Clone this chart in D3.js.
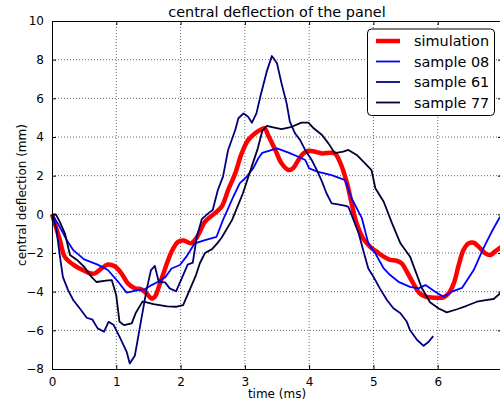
<!DOCTYPE html>
<html>
<head>
<meta charset="utf-8">
<script src="https://cdn.jsdelivr.net/npm/d3@7"></script>
<style>
    body { margin: 0; background: #fff; }
    text { font-family: "DejaVu Sans", sans-serif; fill: #000; }
    .tick-label { font-size: 12px; }
    .axis-label { font-size: 12px; }
    .chart-title { font-size: 14.4px; text-anchor: middle; }
    .legend-text { font-size: 14.4px; }
    .grid line { stroke: #000; stroke-width: 0.6; stroke-dasharray: 1,2; }
</style>
</head>
<body>
<div id="chart-area"></div>
<script>

// [time (ms), central deflection (mm)]
let simulation = [
    [0, 0], [0.12, -1.3], [0.2, -2.2], [0.33, -2.6], [0.43, -2.8], [0.59, -3.05], [0.67, -3.05],
    [0.77, -2.8], [0.87, -2.6], [0.98, -2.7], [1.08, -3.05], [1.18, -3.57], [1.29, -3.83],
    [1.39, -3.88], [1.47, -4.09], [1.55, -4.35], [1.60, -4.26], [1.68, -3.57], [1.76, -2.8],
    [1.86, -1.93], [1.96, -1.42], [2.05, -1.35], [2.16, -1.5], [2.25, -1.2], [2.30, -0.9],
    [2.38, -0.38], [2.53, 0.05], [2.64, 0.4], [2.74, 1.26], [2.85, 2.12], [2.95, 3.15],
    [3.05, 3.84], [3.16, 4.19], [3.26, 4.4], [3.31, 4.45], [3.36, 4.1], [3.47, 3.36],
    [3.57, 2.64], [3.68, 2.29], [3.75, 2.38], [3.83, 2.8], [3.91, 3.15], [3.99, 3.29],
    [4.09, 3.24], [4.20, 3.15], [4.33, 3.19], [4.40, 3.15], [4.48, 2.7], [4.59, 1.6],
    [4.66, 0.57], [4.74, -0.47], [4.84, -1.24], [4.95, -1.68], [5.05, -1.93], [5.16, -2.19],
    [5.26, -2.36], [5.36, -2.4], [5.44, -2.54], [5.52, -2.97], [5.62, -3.57], [5.72, -4.09],
    [5.81, -4.26], [5.96, -4.31], [6.09, -4.29], [6.17, -4.09], [6.25, -3.57], [6.32, -2.71],
    [6.40, -1.85], [6.48, -1.5], [6.56, -1.47], [6.64, -1.68], [6.74, -2.02], [6.82, -2.1],
    [6.89, -1.93], [6.99, -1.68]
];

let sample08 = [
    [0, 0], [0.09, -0.47], [0.245, -1.42], [0.33, -1.85], [0.50, -2.33], [0.71, -2.6],
    [0.87, -2.88], [1.02, -3.45], [1.16, -4.05], [1.34, -3.92], [1.44, -3.88], [1.55, -3.66],
    [1.65, -3.49], [1.76, -3.26], [1.86, -2.8], [1.99, -2.62], [2.09, -2.19], [2.22, -1.5],
    [2.38, -1.33], [2.56, -1.16], [2.66, -0.29], [2.74, 0.31], [2.82, 0.91], [2.92, 1.6],
    [3.03, 1.95], [3.13, 2.38], [3.21, 2.9], [3.27, 3.18], [3.50, 3.41], [3.68, 3.19],
    [3.83, 2.98], [3.94, 2.81], [4.0, 2.38], [4.14, 2.2], [4.35, 2.03], [4.56, 1.77],
    [4.66, 0.83], [4.82, -0.2], [4.92, -1.5], [5.03, -2.02], [5.16, -2.8], [5.26, -3.14],
    [5.39, -3.49], [5.57, -3.75], [5.70, -3.83], [5.81, -3.66], [5.96, -4.0], [6.09, -4.26],
    [6.22, -4.0], [6.38, -3.8], [6.56, -2.88], [6.71, -1.76], [6.84, -0.9], [6.97, -0.12]
];

let sample61 = [
    [0, 0], [0.065, -0.7], [0.12, -2.1], [0.17, -3.25], [0.25, -3.92], [0.33, -4.43],
    [0.43, -4.86], [0.54, -5.35], [0.63, -5.45], [0.71, -5.9], [0.81, -6.07], [0.88, -5.56],
    [0.96, -5.73], [1.05, -6.33], [1.16, -7.1], [1.21, -7.71], [1.29, -7.3], [1.38, -5.6],
    [1.47, -3.92], [1.54, -2.88], [1.60, -2.67], [1.66, -3.49], [1.76, -3.52], [1.83, -3.83],
    [1.93, -3.98], [2.02, -3.3], [2.11, -2.6], [2.19, -2.5], [2.25, -1.2], [2.33, -0.25],
    [2.43, 0.05], [2.50, 0.22], [2.58, 1.26], [2.66, 1.95], [2.74, 3.33], [2.85, 4.36],
    [2.90, 4.97], [2.98, 5.22], [3.05, 5.05], [3.11, 4.74], [3.18, 5.22], [3.24, 6.08],
    [3.34, 7.38], [3.42, 8.19], [3.50, 7.81], [3.57, 6.78], [3.65, 5.74], [3.70, 4.79],
    [3.78, 4.19], [3.86, 3.84], [3.94, 3.32], [4.04, 2.81], [4.12, 2.29], [4.20, 1.69],
    [4.27, 1.09], [4.35, 0.57], [4.45, 0.52], [4.57, 0.44], [4.61, 0.39], [4.69, -0.29],
    [4.77, -0.98], [4.84, -1.85], [4.92, -2.8], [5.0, -3.23], [5.10, -3.83], [5.21, -4.43],
    [5.31, -4.86], [5.42, -5.12], [5.52, -5.56], [5.57, -6.0], [5.68, -6.5], [5.78, -6.8],
    [5.86, -6.59], [5.93, -6.3]
];

let sample77 = [
    [0, 0], [0.06, 0], [0.12, -0.38], [0.20, -0.98], [0.28, -2.1], [0.39, -2.36],
    [0.51, -2.75], [0.59, -3.14], [0.69, -3.5], [0.87, -3.42], [0.93, -3.4], [1.0, -4.2],
    [1.05, -5.56], [1.12, -5.73], [1.24, -5.64], [1.30, -5.12], [1.41, -4.5], [1.58, -4.65],
    [1.79, -4.76], [1.94, -4.78], [2.04, -4.7], [2.13, -4.0], [2.24, -3.14], [2.30, -2.53],
    [2.38, -2.0], [2.49, -1.8], [2.57, -1.5], [2.64, -1.2], [2.80, -0.3], [2.97, 1.09],
    [3.09, 2.3], [3.20, 3.4], [3.27, 4.3], [3.34, 4.57], [3.44, 4.5], [3.57, 4.41],
    [3.73, 4.53], [3.88, 4.74], [3.99, 4.74], [4.07, 4.45], [4.20, 4.1], [4.30, 3.67],
    [4.40, 3.16], [4.53, 3.24], [4.61, 3.33], [4.74, 3.07], [4.87, 2.64], [4.97, 2.29],
    [5.03, 1.35], [5.16, 0.65], [5.29, -0.47], [5.42, -1.5], [5.57, -2.19], [5.65, -2.9],
    [5.75, -3.8], [5.88, -4.55], [6.01, -4.86], [6.14, -5.07], [6.30, -4.91], [6.45, -4.73],
    [6.61, -4.52], [6.77, -4.43], [6.87, -4.38], [6.97, -4.09]
];

let seriesNames = ["simulation", "sample 08", "sample 61", "sample 77"];
let seriesColors = ["#ff0000", "#0000ff", "#00007c", "#000033"];
let xTicks = [0, 1, 2, 3, 4, 5, 6];
let yTicks = [-8, -6, -4, -2, 0, 2, 4, 6, 8, 10];


class DeflectionChart {

    constructor(parentElement, series) {
        this.parentElement = parentElement;
        this.series = series;
        this.initVis();
    }

    initVis() {
        let vis = this;

        vis.margin = {top: 21, right: -2, bottom: 36, left: 52};
        vis.width = 500 - vis.margin.left - vis.margin.right;
        vis.height = 405 - vis.margin.top - vis.margin.bottom;

        vis.svg = d3.select("#" + vis.parentElement).append("svg")
            .attr("width", 500)
            .attr("height", 405)
            .style("display", "block")
            .append("g")
            .attr("transform", "translate(" + vis.margin.left + "," + vis.margin.top + ")");

        vis.x = d3.scaleLinear().domain([0, 7]).range([0, vis.width]);
        vis.y = d3.scaleLinear().domain([-8, 10]).range([vis.height, 0]);

        // dotted grid
        vis.svg.append("g")
            .attr("class", "grid")
            .selectAll("line.gx")
            .data(xTicks.slice(1))
            .enter().append("line")
            .attr("x1", d => vis.x(d)).attr("x2", d => vis.x(d))
            .attr("y1", 0).attr("y2", vis.height);

        vis.svg.select(".grid")
            .selectAll("line.gy")
            .data(yTicks.slice(1, -1))
            .enter().append("line")
            .attr("class", "gy")
            .attr("x1", 0).attr("x2", vis.width)
            .attr("y1", d => vis.y(d)).attr("y2", d => vis.y(d));

        vis.updateVis();
    }

    updateVis() {
        let vis = this;

        let line = d3.line()
            .x(d => vis.x(d[0]))
            .y(d => vis.y(d[1]));

        vis.svg.selectAll("path.series")
            .data(vis.series)
            .enter().append("path")
            .attr("class", "series")
            .attr("fill", "none")
            .attr("stroke", (d, i) => seriesColors[i])
            .attr("stroke-width", (d, i) => i === 0 ? 4.5 : 1.8)
            .attr("stroke-linejoin", "round")
            .attr("d", (d, i) => i === 0 ? line.curve(d3.curveCatmullRom)(d) : line.curve(d3.curveLinear)(d));

        // axes: ticks point inward, on all four sides
        let xAxis = d3.axisBottom(vis.x).tickValues(xTicks).tickFormat(d3.format("d"))
            .tickSizeInner(-4).tickSizeOuter(0).tickPadding(8);
        let yAxis = d3.axisLeft(vis.y).tickValues(yTicks).tickFormat(d3.format("d"))
            .tickSizeInner(-4).tickSizeOuter(0).tickPadding(8);

        let gx = vis.svg.append("g")
            .attr("transform", "translate(0," + vis.height + ")")
            .call(xAxis);
        let gy = vis.svg.append("g").call(yAxis);

        vis.svg.append("g")
            .call(d3.axisTop(vis.x).tickValues(xTicks).tickSizeInner(-4).tickSizeOuter(0).tickFormat(""));
        vis.svg.append("g")
            .attr("transform", "translate(" + vis.width + ",0)")
            .call(d3.axisRight(vis.y).tickValues(yTicks).tickSizeInner(-4).tickSizeOuter(0).tickFormat(""));

        vis.svg.selectAll(".domain").attr("stroke", "#000").attr("stroke-width", 1);
        vis.svg.selectAll(".tick line").attr("stroke", "#000");
        [gx, gy].forEach(g => g.selectAll("text")
            .attr("class", "tick-label")
            .attr("font-size", null)
            .attr("font-family", null)
            .attr("fill", "#000"));

        vis.svg.append("text")
            .attr("class", "chart-title")
            .attr("x", vis.x(3.5))
            .attr("y", -4.5)
            .text("central deflection of the panel");

        vis.svg.append("text")
            .attr("class", "axis-label")
            .attr("text-anchor", "middle")
            .attr("x", vis.x(3.5))
            .attr("y", vis.height + 29)
            .text("time (ms)");

        vis.svg.append("text")
            .attr("class", "axis-label")
            .attr("text-anchor", "middle")
            .attr("transform", "rotate(-90)")
            .attr("x", -vis.height / 2)
            .attr("y", -26)
            .text("central deflection (mm)");

        // legend
        let legend = vis.svg.append("g")
            .attr("transform", "translate(" + (367.5 - vis.margin.left) + "," + (29 - vis.margin.top) + ")");

        legend.append("rect")
            .attr("width", 127)
            .attr("height", 86.5)
            .attr("rx", 4)
            .attr("fill", "#fff")
            .attr("stroke", "#000")
            .attr("stroke-width", 1);

        let entry = legend.selectAll("g.entry")
            .data(seriesNames)
            .enter().append("g")
            .attr("class", "entry")
            .attr("transform", (d, i) => "translate(0," + (12 + i * 20.5) + ")");

        entry.append("line")
            .attr("x1", 8.5).attr("x2", 32.5)
            .attr("stroke", (d, i) => seriesColors[i])
            .attr("stroke-width", (d, i) => i === 0 ? 4.5 : 1.8);

        entry.append("text")
            .attr("class", "legend-text")
            .attr("x", 46.5)
            .attr("y", 5)
            .text(d => d);
    }
}

new DeflectionChart("chart-area", [simulation, sample08, sample61, sample77]);

</script>
</body>
</html>
